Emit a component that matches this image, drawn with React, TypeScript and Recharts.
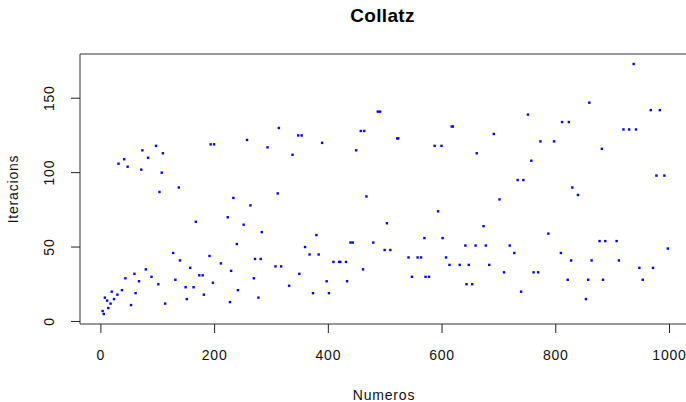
import React from "react";
import {
  ScatterChart,
  Scatter,
  XAxis,
  YAxis,
  ReferenceArea,
  Label,
} from "recharts";

// Odd primes below 1000
const numeros: number[] = [
  3, 5, 7, 11, 13, 17, 19, 23, 29, 31, 37, 41, 43, 47, 53, 59, 61, 67, 71, 73, 79, 83, 89, 97,
  101, 103, 107, 109, 113, 127, 131, 137, 139, 149, 151, 157, 163, 167, 173, 179, 181, 191, 193, 197, 199,
  211, 223, 227, 229, 233, 239, 241, 251, 257, 263, 269, 271, 277, 281, 283, 293,
  307, 311, 313, 317, 331, 337, 347, 349, 353, 359, 367, 373, 379, 383, 389, 397,
  401, 409, 419, 421, 431, 433, 439, 443, 449, 457, 461, 463, 467, 479, 487, 491, 499,
  503, 509, 521, 523, 541, 547, 557, 563, 569, 571, 577, 587, 593, 599,
  601, 607, 613, 617, 619, 631, 641, 643, 647, 653, 659, 661, 673, 677, 683, 691,
  701, 709, 719, 727, 733, 739, 743, 751, 757, 761, 769, 773, 787, 797,
  809, 811, 821, 823, 827, 829, 839, 853, 857, 859, 863, 877, 881, 883, 887,
  907, 911, 919, 929, 937, 941, 947, 953, 967, 971, 977, 983, 991, 997,
];

// Collatz steps needed to reach 1, one per number above
const iteraciones: number[] = [
  7, 5, 16, 14, 9, 12, 20, 15, 18, 106, 21, 109, 29, 104, 11, 32, 19, 27, 102, 115, 35, 110, 30, 118,
  25, 87, 100, 113, 12, 46, 28, 90, 41, 23, 15, 36, 23, 67, 31, 31, 18, 44, 119, 26, 119,
  39, 70, 13, 34, 83, 52, 21, 65, 122, 78, 29, 42, 16, 42, 60, 117,
  37, 86, 130, 37, 24, 112, 125, 32, 125, 50, 45, 19, 58, 45, 120, 27,
  19, 40, 40, 40, 40, 27, 53, 53, 115, 128, 35, 128, 84, 53, 141, 141, 48,
  66, 48, 123, 123, 43, 30, 43, 43, 56, 30, 30, 118, 74, 118,
  56, 43, 38, 131, 131, 38, 51, 25, 38, 25, 51, 113, 64, 51, 38, 126,
  82, 33, 51, 46, 95, 20, 95, 139, 108, 33, 33, 121, 59, 121,
  46, 134, 28, 134, 41, 90, 85, 15, 28, 147, 41, 54, 116, 28, 54,
  54, 41, 129, 129, 173, 129, 36, 28, 142, 36, 98, 142, 98, 49,
];

const xTicks: number[] = [0, 200, 400, 600, 800, 1000];
const yTicks: number[] = [0, 50, 100, 150];

const puntos = numeros.map((n, i) => ({ x: n, y: iteraciones[i] }));

// data range widened by 4% on each side
const xMin = Math.min(...numeros);
const xMax = Math.max(...numeros);
const yMin = Math.min(...iteraciones);
const yMax = Math.max(...iteraciones);
const xPad = (xMax - xMin) * 0.04;
const yPad = (yMax - yMin) * 0.04;
const xDomain: [number, number] = [xMin - xPad, xMax + xPad];
const yDomain: [number, number] = [yMin - yPad, yMax + yPad];

const FONT = "'Liberation Sans', Arial, sans-serif";
const INK = "#111";

const XTick = (props: any) => {
  const { x, y, payload } = props;
  return (
    <text
      x={x}
      y={y + 27}
      textAnchor="middle"
      fontFamily={FONT}
      fontSize={14}
      letterSpacing={0.8}
      fill={INK}
    >
      {payload.value}
    </text>
  );
};

const YTick = (props: any) => {
  const { x, y, payload } = props;
  const bx = x - 17;
  return (
    <text
      x={bx}
      y={y}
      transform={`rotate(-90, ${bx}, ${y})`}
      textAnchor="middle"
      fontFamily={FONT}
      fontSize={14}
      letterSpacing={0.8}
      fill={INK}
    >
      {payload.value}
    </text>
  );
};

const Punto = (props: any) => {
  const { cx, cy } = props;
  return <rect x={cx - 1.2} y={cy - 1.2} width={2.4} height={2.4} fill="#0000ff" />;
};

export default function App() {
  return (
    <div
      style={{
        position: "absolute",
        left: 0,
        top: 0,
        width: 686,
        height: 402,
        overflow: "hidden",
        background: "#fff",
      }}
    >
      <ScatterChart
        width={700}
        height={402}
        margin={{ top: 54, right: 9.6, bottom: 48, left: 20 }}
      >
        <XAxis
          type="number"
          dataKey="x"
          domain={xDomain}
          ticks={xTicks}
          allowDataOverflow
          axisLine={false}
          tickLine={{ stroke: "#222" }}
          tickSize={9}
          tickMargin={0}
          height={30}
          tick={<XTick />}
          interval={0}
        >
          <Label
            content={() => (
              <text
                x={384}
                y={399.5}
                textAnchor="middle"
                fontFamily={FONT}
                fontSize={14}
                letterSpacing={0.8}
                fill={INK}
              >
                Numeros
              </text>
            )}
          />
        </XAxis>
        <YAxis
          type="number"
          dataKey="y"
          domain={yDomain}
          ticks={yTicks}
          allowDataOverflow
          axisLine={false}
          tickLine={{ stroke: "#222" }}
          tickSize={9}
          tickMargin={0}
          width={60}
          tick={<YTick />}
          interval={0}
        >
          <Label
            content={() => (
              <text
                x={18}
                y={189}
                transform="rotate(-90, 18, 189)"
                textAnchor="middle"
                fontFamily={FONT}
                fontSize={14}
                letterSpacing={0.8}
                fill={INK}
              >
                Iteracions
              </text>
            )}
          />
        </YAxis>
        <ReferenceArea
          x1={xDomain[0]}
          x2={xDomain[1]}
          y1={yDomain[0]}
          y2={yDomain[1]}
          fill="none"
          fillOpacity={0}
          stroke="#333"
          strokeWidth={1}
          ifOverflow="visible"
        />
        <Scatter
          data={puntos}
          shape={<Punto />}
          isAnimationActive={false}
        />
      </ScatterChart>
      <svg
        width={686}
        height={40}
        style={{ position: "absolute", left: 0, top: 0, pointerEvents: "none" }}
      >
        <text
          x={382.5}
          y={22}
          textAnchor="middle"
          fontFamily={FONT}
          fontSize={19}
          fontWeight="bold"
          letterSpacing={0.3}
          fill="#000"
        >
          Collatz
        </text>
      </svg>
    </div>
  );
}
